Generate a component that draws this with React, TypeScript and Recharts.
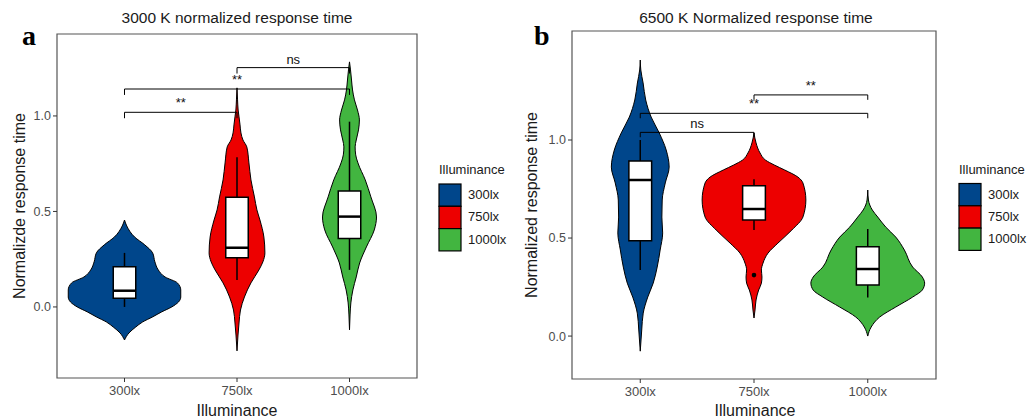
import { ComposedChart, Area, XAxis, YAxis, ReferenceArea, ReferenceLine, ReferenceDot } from "recharts";

const categories = ["300lx", "750lx", "1000lx"];
const colors = ["#00468B", "#ED0000", "#42B540"];
const yTicks = [0, 0.5, 1.0];

// violin outlines: [response value, half width]
const violinA300 = [[0.455, 0], [0.424, 0.02], [0.366, 0.09], [0.325, 0.18], [0.283, 0.25], [0.236, 0.27], [0.194, 0.3], [0.157, 0.36], [0.126, 0.47], [0.089, 0.5], [0.052, 0.5], [0.026, 0.48], [0, 0.42], [-0.026, 0.33], [-0.052, 0.25], [-0.079, 0.16], [-0.105, 0.1], [-0.136, 0.04], [-0.173, 0]];
const violinA750 = [[1.147, 0], [1.084, 0.005], [1.031, 0.01], [0.995, 0.018], [0.953, 0.027], [0.911, 0.035], [0.874, 0.053], [0.838, 0.087], [0.754, 0.106], [0.665, 0.124], [0.576, 0.155], [0.508, 0.177], [0.455, 0.204], [0.366, 0.239], [0.283, 0.248], [0.236, 0.23], [0.194, 0.195], [0.126, 0.124], [0.052, 0.066], [-0.016, 0.031], [-0.084, 0.018], [-0.147, 0.009], [-0.23, 0]];
const violinA1000 = [[1.283, 0], [1.241, 0.009], [1.188, 0.018], [1.136, 0.027], [1.084, 0.044], [1.031, 0.071], [0.979, 0.088], [0.927, 0.08], [0.874, 0.06], [0.838, 0.05], [0.796, 0.055], [0.754, 0.075], [0.665, 0.14], [0.576, 0.19], [0.471, 0.24], [0.403, 0.22], [0.314, 0.15], [0.23, 0.09], [0.157, 0.06], [0.089, 0.03], [0.021, 0.012], [-0.042, 0.005], [-0.12, 0]];

const violinB300 = [[1.408, 0], [1.357, 0.005], [1.291, 0.025], [1.204, 0.048], [1.117, 0.096], [1.036, 0.167], [0.949, 0.228], [0.862, 0.254], [0.781, 0.22], [0.694, 0.193], [0.607, 0.19], [0.526, 0.197], [0.439, 0.175], [0.352, 0.149], [0.27, 0.114], [0.199, 0.066], [0.117, 0.026], [0.031, 0.013], [-0.077, 0]];
const violinB750 = [[1.036, 0], [0.985, 0.018], [0.934, 0.053], [0.898, 0.1], [0.872, 0.18], [0.847, 0.27], [0.811, 0.386], [0.781, 0.43], [0.694, 0.456], [0.607, 0.43], [0.541, 0.333], [0.474, 0.21], [0.423, 0.123], [0.372, 0.079], [0.337, 0.065], [0.301, 0.07], [0.27, 0.065], [0.235, 0.041], [0.184, 0.018], [0.133, 0.009], [0.092, 0]];
const violinB1000 = [[0.745, 0], [0.694, 0.006], [0.643, 0.04], [0.607, 0.088], [0.556, 0.158], [0.505, 0.246], [0.439, 0.322], [0.352, 0.395], [0.301, 0.48], [0.27, 0.5], [0.235, 0.48], [0.199, 0.395], [0.148, 0.246], [0.097, 0.105], [0.046, 0.03], [0, 0]];

// boxplots: [lower whisker, q1, median, q3, upper whisker]
const boxesA = [[0.0, 0.045, 0.085, 0.21, 0.283], [0.141, 0.258, 0.31, 0.574, 0.784], [0.194, 0.358, 0.473, 0.607, 0.97]];
const boxesB = [[0.337, 0.486, 0.796, 0.893, 1.0], [0.541, 0.592, 0.648, 0.767, 0.8], [0.197, 0.26, 0.342, 0.456, 0.546]];
const outliersB = [[2, 0.311]];

// significance brackets: [from category, to category, height, label]
const bracketsA: [number, number, number, string][] = [[1, 2, 1.019, "**"], [1, 3, 1.141, "**"], [2, 3, 1.253, "ns"]];
const bracketsB: [number, number, number, string][] = [[1, 2, 1.039, "ns"], [1, 3, 1.136, "**"], [2, 3, 1.23, "**"]];

const FONT = "'Liberation Sans', Arial, sans-serif";

function buildRows(profiles: number[][][]) {
  const ys = Array.from(new Set(profiles.flatMap((p) => p.map((d) => d[0])))).sort((a, b) => a - b);
  return ys.map((y) => {
    const row: any = { y };
    profiles.forEach((p, i) => {
      const hit = p.find((d) => d[0] === y);
      row[`v${i}`] = hit ? [i + 1 - hit[1], i + 1 + hit[1]] : [null, null];
    });
    return row;
  });
}

type PanelProps = {
  left: number;
  marginTop: number;
  marginRight: number;
  xAxisHeight: number;
  yDomain: [number, number];
  profiles: number[][][];
  boxes: number[][];
  brackets: [number, number, number, string][];
  tip: number;
  outliers?: number[][];
};

function ViolinPanel({ left, marginTop, marginRight, xAxisHeight, yDomain, profiles, boxes, brackets, tip, outliers = [] }: PanelProps) {
  const rows = buildRows(profiles);
  const bw = 0.1;
  return (
    <div style={{ position: "absolute", left, top: 0 }}>
      <ComposedChart
        width={520}
        height={420}
        data={rows}
        layout="vertical"
        margin={{ top: marginTop, right: marginRight, bottom: 0, left: 0 }}
      >
        <XAxis
          type="number"
          domain={[0.4, 3.6]}
          allowDataOverflow
          ticks={[1, 2, 3]}
          tickFormatter={(v: number) => categories[v - 1]}
          height={xAxisHeight}
          axisLine={false}
          tickLine={{ stroke: "#333" }}
          tickSize={4}
          tickMargin={4}
          tick={{ fontSize: 13, fill: "#4d4d4d", fontFamily: FONT }}
        />
        <YAxis
          type="number"
          dataKey="y"
          domain={yDomain}
          allowDataOverflow
          reversed
          ticks={yTicks}
          tickFormatter={(v: number) => v.toFixed(1)}
          width={57}
          axisLine={false}
          tickLine={{ stroke: "#333" }}
          tickSize={4}
          tickMargin={2}
          tick={{ fontSize: 12.5, fill: "#4d4d4d", fontFamily: FONT }}
        />

        {profiles.map((_, i) => (
          <Area
            key={i}
            dataKey={`v${i}`}
            type="monotone"
            connectNulls
            fill={colors[i]}
            fillOpacity={1}
            stroke="#000"
            strokeWidth={1}
            dot={false}
            activeDot={false}
            isAnimationActive={false}
          />
        ))}

        {/* boxplots */}
        {boxes.map((b, i) => {
          const c = i + 1;
          return [
            <ReferenceLine key={`lw${i}`} segment={[{ x: c, y: b[0] }, { x: c, y: b[1] }]} stroke="#000" strokeWidth={1.5} />,
            <ReferenceLine key={`uw${i}`} segment={[{ x: c, y: b[3] }, { x: c, y: b[4] }]} stroke="#000" strokeWidth={1.5} />,
            <ReferenceArea key={`bx${i}`} x1={c - bw} x2={c + bw} y1={b[1]} y2={b[3]} fill="#fff" fillOpacity={1} stroke="#000" strokeWidth={1.5} />,
            <ReferenceLine key={`md${i}`} segment={[{ x: c - bw, y: b[2] }, { x: c + bw, y: b[2] }]} stroke="#000" strokeWidth={2.5} />,
          ];
        })}
        {outliers.map((o, i) => (
          <ReferenceDot key={`o${i}`} x={o[0]} y={o[1]} r={2.3} fill="#000" stroke="none" />
        ))}

        {/* significance brackets */}
        {brackets.map((br, i) => [
          <ReferenceLine
            key={`bh${i}`}
            segment={[{ x: br[0], y: br[2] }, { x: br[1], y: br[2] }]}
            stroke="#000"
            strokeWidth={1}
            label={{ value: br[3], position: "top", offset: br[3] === "ns" ? 4 : 5, fontSize: 13, fill: "#111", fontFamily: FONT }}
          />,
          <ReferenceLine key={`bl${i}`} segment={[{ x: br[0], y: br[2] - tip }, { x: br[0], y: br[2] }]} stroke="#000" strokeWidth={1} />,
          <ReferenceLine key={`br${i}`} segment={[{ x: br[1], y: br[2] - tip }, { x: br[1], y: br[2] }]} stroke="#000" strokeWidth={1} />,
        ])}

        {/* panel border */}
        <ReferenceArea x1={0.4} x2={3.6} y1={yDomain[0]} y2={yDomain[1]} fill="none" stroke="#555" strokeWidth={1.2} ifOverflow="visible" />
      </ComposedChart>
    </div>
  );
}

function Legend({ x, y }: { x: number; y: number }) {
  return (
    <g fontFamily={FONT}>
      <text x={x} y={y} fontSize={13} fill="#1a1a1a">Illuminance</text>
      {categories.map((c, i) => (
        <g key={c}>
          <rect x={x} y={y + 10 + i * 22.3} width={22} height={22.3} fill={colors[i]} stroke="#000" strokeWidth={1.2} />
          <text x={x + 29} y={y + 25 + i * 22.3} fontSize={13} fill="#1a1a1a">{c}</text>
        </g>
      ))}
    </g>
  );
}

export default function App() {
  return (
    <div style={{ position: "absolute", left: 0, top: 0, width: 1035, height: 420, background: "#fff" }}>
      <ViolinPanel
        left={0}
        marginTop={34}
        marginRight={103}
        xAxisHeight={42}
        yDomain={[-0.372, 1.429]}
        profiles={[violinA300, violinA750, violinA1000]}
        boxes={boxesA}
        brackets={bracketsA}
        tip={0.031}
      />
      <ViolinPanel
        left={515}
        marginTop={31}
        marginRight={99}
        xAxisHeight={41}
        yDomain={[-0.219, 1.556]}
        profiles={[violinB300, violinB750, violinB1000]}
        boxes={boxesB}
        brackets={bracketsB}
        tip={0.025}
        outliers={outliersB}
      />
      <svg width={1035} height={420} style={{ position: "absolute", left: 0, top: 0, pointerEvents: "none" }}>
        <g fontFamily={FONT} fill="#1a1a1a">
          <text x={237} y={23} fontSize={15.5} textAnchor="middle">3000 K normalized response time</text>
          <text x={756} y={23} fontSize={15.5} textAnchor="middle">6500 K Normalized response time</text>
          <text x={237} y={415.5} fontSize={16} textAnchor="middle">Illuminance</text>
          <text x={755} y={415.5} fontSize={16} textAnchor="middle">Illuminance</text>
          <text transform="translate(25,206) rotate(-90)" fontSize={16} textAnchor="middle">Normalizde response time</text>
          <text transform="translate(537,205) rotate(-90)" fontSize={16} textAnchor="middle">Normalized response time</text>
        </g>
        <text x={22} y={45} fontSize={28} fontWeight="bold" fontFamily="'Liberation Serif', 'Times New Roman', serif">a</text>
        <text x={534} y={45} fontSize={28} fontWeight="bold" fontFamily="'Liberation Serif', 'Times New Roman', serif">b</text>
        <Legend x={439} y={174} />
        <Legend x={959} y={173.5} />
      </svg>
    </div>
  );
}
